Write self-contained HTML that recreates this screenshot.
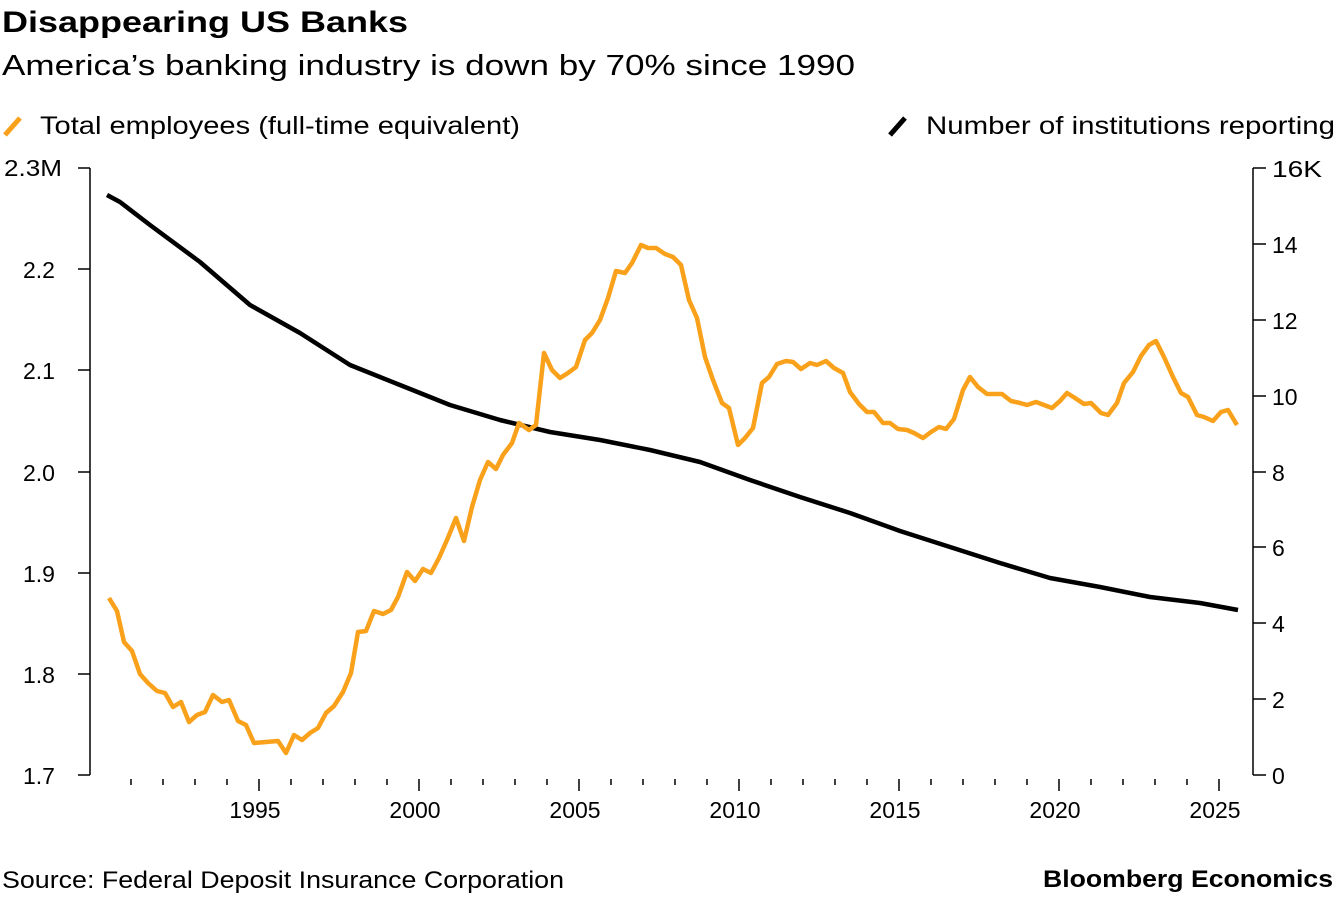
<!DOCTYPE html>
<html><head><meta charset="utf-8"><style>
body{margin:0;background:#fff;width:1337px;height:896px;overflow:hidden;font-family:"Liberation Sans",sans-serif;}
svg text{font-family:"Liberation Sans",sans-serif;}
</style></head><body>
<svg width="1337" height="896" viewBox="0 0 1337 896">
<text x="2" y="32" font-size="30" font-weight="bold" fill="#000" textLength="406" lengthAdjust="spacingAndGlyphs">Disappearing US Banks</text>
<text x="2" y="75" font-size="29" fill="#000" textLength="853" lengthAdjust="spacingAndGlyphs">America’s banking industry is down by 70% since 1990</text>
<line x1="5" y1="135" x2="20" y2="118" stroke="#f9a11b" stroke-width="5"/>
<text x="40" y="134" font-size="25" fill="#000" textLength="480" lengthAdjust="spacingAndGlyphs">Total employees (full-time equivalent)</text>
<line x1="890" y1="135" x2="905" y2="118" stroke="#000" stroke-width="5"/>
<text x="926" y="134" font-size="25" fill="#000" textLength="409" lengthAdjust="spacingAndGlyphs">Number of institutions reporting</text>
<g stroke="#000" stroke-width="1.5" fill="none">
<line x1="90" y1="168" x2="90" y2="775"/>
<line x1="1253" y1="168" x2="1253" y2="775"/>
<path d="M78 168H90M78 269H90M78 370H90M78 472H90M78 573H90M78 674H90M78 775H90"/>
<path d="M1253 168H1266M1253 244H1266M1253 320H1266M1253 396H1266M1253 472H1266M1253 547H1266M1253 623H1266M1253 699H1266M1253 775H1266"/>
<path d="M131 779v6M163 779v6M195 779v6M227 779v6M291 779v6M323 779v6M355 779v6M387 779v6M451 779v6M483 779v6M515 779v6M547 779v6M611 779v6M643 779v6M675 779v6M707 779v6M771 779v6M803 779v6M835 779v6M867 779v6M931 779v6M963 779v6M995 779v6M1027 779v6M1091 779v6M1123 779v6M1155 779v6M1187 779v6"/>
<path d="M259 779v12M419 779v12M579 779v12M739 779v12M899 779v12M1059 779v12M1219 779v12"/>
</g>
<g font-size="23" fill="#000">
<text x="4" y="176" textLength="58" lengthAdjust="spacingAndGlyphs">2.3M</text>
<text x="23" y="278">2.2</text><text x="23" y="379">2.1</text><text x="23" y="481">2.0</text>
<text x="23" y="582">1.9</text><text x="23" y="683">1.8</text><text x="23" y="784">1.7</text>
<text x="1272" y="177" textLength="50" lengthAdjust="spacingAndGlyphs">16K</text><text x="1272" y="253">14</text><text x="1272" y="329">12</text>
<text x="1272" y="405">10</text><text x="1272" y="481">8</text><text x="1272" y="556">6</text>
<text x="1272" y="632">4</text><text x="1272" y="708">2</text><text x="1272" y="784">0</text>
</g>
<g font-size="23" fill="#000" text-anchor="middle">
<text x="255" y="818">1995</text><text x="415" y="818">2000</text><text x="575" y="818">2005</text>
<text x="735" y="818">2010</text><text x="895" y="818">2015</text><text x="1055" y="818">2020</text><text x="1215" y="818">2025</text>
</g>
<polyline fill="none" stroke="#000" stroke-width="4.5" stroke-linejoin="round" points="107,195 120,202 150,225 200,262 250,305 300,333 350,365 400,385 450,405 500,420 550,432 600,440 650,450 700,462 750,480 800,497 850,513 900,531 950,547 1000,563 1050,578 1100,587 1150,597 1200,603 1238,610"/>
<polyline fill="none" stroke="#f9a11b" stroke-width="4.5" stroke-linejoin="round" points="109,598 117,611 124,642 132,651 140,674 148,683 157,691 165,693 173,707 181,702 189,722 197,715 205,712 213,695 222,702 229,700 238,721 246,725 254,743 278,741 286,753 294,735 302,740 310,733 318,728 326,713 334,706 343,692 351,673 358,632 366,631 374,611 383,614 391,610 398,597 407,572 415,581 423,569 431,573 439,558 447,540 456,518 464,541 472,507 480,480 488,462 496,469 503,455 512,443 519,423 529,430 536,425 544,353 552,370 560,378 568,373 576,367 585,340 592,333 600,320 608,298 616,271 625,273 632,263 641,245 648,248 656,248 665,254 673,257 681,265 689,300 697,318 705,357 713,380 722,403 729,408 738,445 745,438 753,428 762,383 769,377 777,364 786,361 793,362 801,369 810,363 817,365 826,361 834,368 843,373 850,392 859,404 867,412 874,412 883,423 890,423 898,429 907,430 914,433 923,438 931,432 939,427 946,429 954,419 963,390 970,377 978,387 987,394 994,394 1002,394 1011,401 1020,403 1027,405 1036,402 1044,405 1052,408 1060,401 1067,393 1075,398 1084,404 1091,403 1101,413 1108,415 1117,403 1124,383 1133,372 1141,356 1149,345 1156,341 1164,357 1173,377 1181,393 1188,397 1197,415 1204,417 1213,421 1221,412 1228,410 1237,425"/>
<text x="2" y="888" font-size="24" fill="#000" textLength="562" lengthAdjust="spacingAndGlyphs">Source: Federal Deposit Insurance Corporation</text>
<text x="1333" y="887" font-size="24" font-weight="bold" fill="#000" text-anchor="end" textLength="290" lengthAdjust="spacingAndGlyphs">Bloomberg Economics</text>
</svg>
</body></html>
